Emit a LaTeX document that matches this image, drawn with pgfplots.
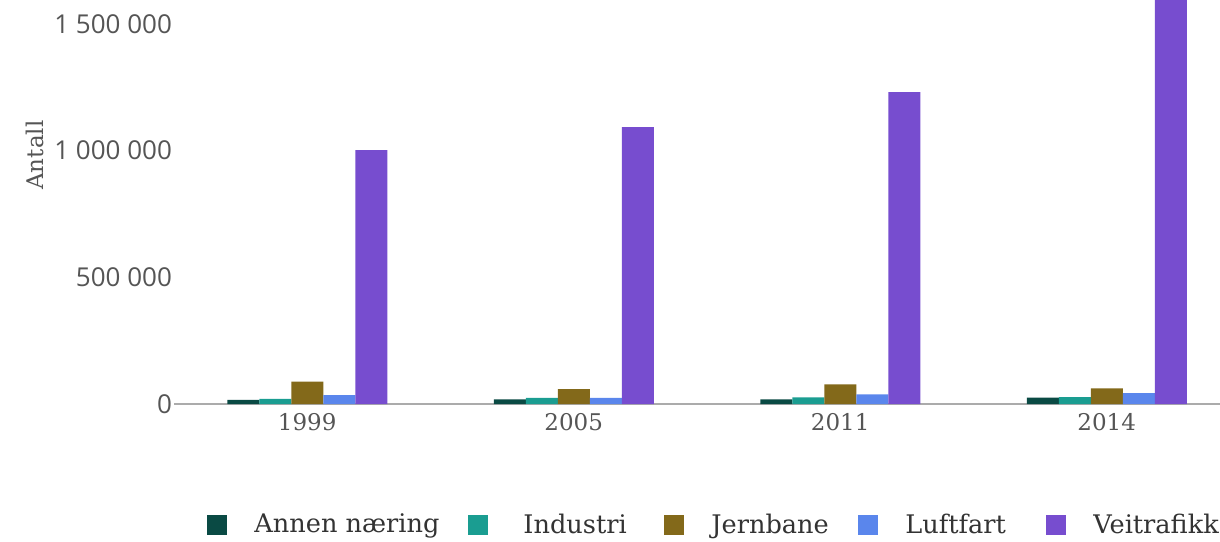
\documentclass[border=0pt]{standalone}
\usepackage{pgfplots}
\pgfplotsset{compat=1.18}
\usepackage{fontspec}
\setmainfont{DejaVu Serif}
\newfontfamily\tickfont{Open Sans}
\definecolor{cAnnen}{HTML}{0A4A44}
\definecolor{cInd}{HTML}{1A9D91}
\definecolor{cJern}{HTML}{83691A}
\definecolor{cLuft}{HTML}{5A86EC}
\definecolor{cVei}{HTML}{774DCF}
\definecolor{txt}{HTML}{555555}
\begin{document}
\begin{tikzpicture}
\useasboundingbox (0,0) rectangle (610pt,270.5pt);
\begin{axis}[
  at={(87pt,68.5pt)}, anchor=south west,
  scale only axis, width=533pt, height=202.7pt,
  ybar=0pt, bar width=16pt,
  xmin=-0.5, xmax=3.5, ymin=0, ymax=1600000,
  axis x line*=bottom, axis y line*=left,
  x axis line style={draw=black!33, line width=1pt, -},
  y axis line style={draw=none},
  xtick={0,1,2,3}, xticklabels={1999,2005,2011,2014},
  ytick={0,500000,1000000,1500000},
  major tick length=0pt,
  scaled y ticks=false,
  /pgf/number format/.cd, fixed, precision=0, assume math mode=true, 1000 sep={\ }, /pgfplots/.cd,
  yticklabel style={font=\tickfont\fontsize{13}{15}\selectfont, text=txt, anchor=east, xshift=2.5pt},
  xticklabel style={font=\fontsize{11.5}{13}\selectfont, text=txt, yshift=-1pt},
  ylabel={Antall},
  ylabel style={font=\fontsize{11.5}{13}\selectfont, text=txt, at={(axis description cs:-0.1304,0.614)}, anchor=center},
  legend columns=5,
  legend style={at={(axis description cs:0.031,-0.298)}, anchor=west, draw=none, fill=none, inner sep=0pt,
    nodes={inner sep=0pt},
    font=\fontsize{12.8}{14}\selectfont, text=black!80,
    /tikz/every even column/.append style={column sep=0pt}},
  legend image code/.code={\fill[#1] (0pt,-5pt) rectangle (10pt,5pt); \path[draw=none,fill=none] (0pt,0pt) -- (23.5pt,0pt);},
]
\addplot[fill=cAnnen, draw=none] coordinates {(0,16000) (1,18000) (2,18000) (3,25000)};
\addplot[fill=cInd, draw=none] coordinates {(0,20000) (1,24000) (2,26000) (3,27000)};
\addplot[fill=cJern, draw=none] coordinates {(0,88000) (1,59000) (2,77000) (3,62000)};
\addplot[fill=cLuft, draw=none] coordinates {(0,35000) (1,24000) (2,38000) (3,43000)};
\addplot[fill=cVei, draw=none] coordinates {(0,1002000) (1,1093000) (2,1231000) (3,1650000)};
\legend{\makebox[107pt][l]{Annen næring}, \makebox[74.5pt][l]{\hspace{4pt}Industri}, \makebox[73.5pt][l]{Jernbane}, \makebox[70.5pt][l]{Luftfart}, Veitrafikk}
\end{axis}
\end{tikzpicture}
\end{document}
